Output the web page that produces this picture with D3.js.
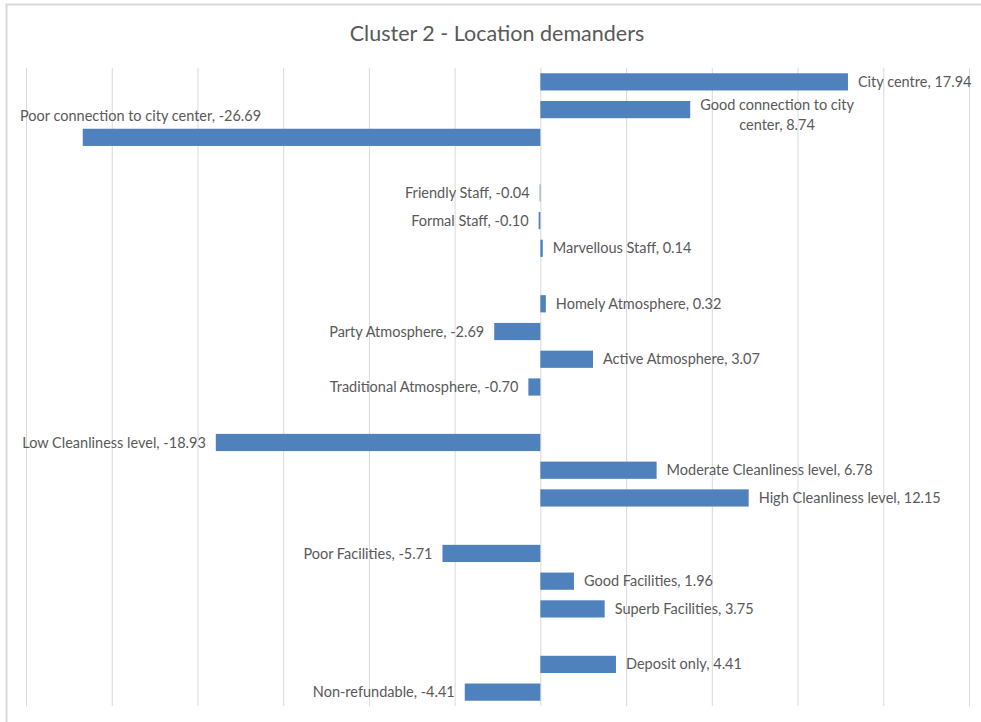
<!DOCTYPE html>
<html lang="en">
<head>
<meta charset="utf-8">
<title>Cluster 2 - Location demanders</title>
<script src="https://d3js.org/d3.v7.min.js"></script>
<style>
  body { margin: 0; background: #fff; }
  text { font-family: Lato, "Open Sans", sans-serif; fill: #595959; }
</style>
</head>
<body>
<div id="my_dataviz"></div>
<script>

// categories top to bottom, "" = empty spacer row between groups
var categories = [
  "City centre", "Good connection to city center", "Poor connection to city center", "",
  "Friendly Staff", "Formal Staff", "Marvellous Staff", "",
  "Homely Atmosphere", "Party Atmosphere", "Active Atmosphere", "Traditional Atmosphere", "",
  "Low Cleanliness level", "Moderate Cleanliness level", "High Cleanliness level", "",
  "Poor Facilities", "Good Facilities", "Superb Facilities", "",
  "Deposit only", "Non-refundable"
];
var values = [
  17.94, 8.74, -26.69, null,
  -0.04, -0.10, 0.14, null,
  0.32, -2.69, 3.07, -0.70, null,
  -18.93, 6.78, 12.15, null,
  -5.71, 1.96, 3.75, null,
  4.41, -4.41
];
var xTicks = [-30, -25, -20, -15, -10, -5, 0, 5, 10, 15, 20, 25];
var title = "Cluster 2 - Location demanders";

var data = categories.map(function(c, i) { return {i: i, name: c, value: values[i]}; });

var W = 981, H = 722;
var margin = {top: 68, right: 12, bottom: 16, left: 26};
var width = W - margin.left - margin.right,
    height = H - margin.top - margin.bottom;

var svg = d3.select("#my_dataviz")
  .append("svg")
  .attr("width", W)
  .attr("height", H);

// chart frame (only top and left edges show in the picture)
svg.append("path")
  .attr("d", "M6.5," + H + "V4.5H" + W)
  .attr("fill", "none")
  .attr("stroke", "#d9d9d9")
  .attr("stroke-width", 2);

svg.append("text")
  .attr("x", 497)
  .attr("y", 41)
  .attr("text-anchor", "middle")
  .style("font-size", "21.5px")
  .text(title);

var g = svg.append("g")
  .attr("transform", "translate(" + margin.left + "," + margin.top + ")");

var x = d3.scaleLinear()
  .domain([-30, 25])
  .range([0, width]);

var y = d3.scaleBand()
  .domain(data.map(function(d) { return d.i; }))
  .range([0, height])
  .paddingInner(0.38)
  .paddingOuter(0.19);

// vertical gridlines
g.append("g")
  .call(d3.axisBottom(x).tickValues(xTicks).tickSize(height).tickFormat(""))
  .call(function(a) {
    a.select(".domain").remove();
    a.selectAll("line").attr("stroke", "#d9d9d9");
  });

var rows = data.filter(function(d) { return d.value !== null; });

// bars
g.selectAll("rect.bar")
  .data(rows)
  .enter()
  .append("rect")
    .attr("class", "bar")
    .attr("x", function(d) { return x(Math.min(0, d.value)); })
    .attr("y", function(d) { return y(d.i); })
    .attr("width", function(d) { return Math.abs(x(d.value) - x(0)); })
    .attr("height", y.bandwidth())
    .attr("fill", "#4f81bd");

// data labels "name, value"
var fs = 14.5;
rows.forEach(function(d) {
  var label = d.name + ", " + d.value.toFixed(2);
  var cy = y(d.i) + y.bandwidth() / 2;
  var xe = x(d.value);
  var t = g.append("text")
    .style("font-size", fs + "px")
    .attr("dy", "0.35em")
    .text(label);
  var w = t.node().getComputedTextLength();

  if (d.value < 0) {
    if (xe - 10 - w < -margin.left + 14) {
      // no room on the left: moved above the bar
      t.attr("x", -6).attr("y", cy - 21).attr("text-anchor", "start");
    } else {
      t.attr("x", xe - 10).attr("y", cy).attr("text-anchor", "end");
    }
  } else if (w > 220) {
    // long label wraps onto two lines
    t.remove();
    var words = label.split(" "), lines = [], line = "";
    var probe = g.append("text").style("font-size", fs + "px");
    words.forEach(function(wd) {
      var test = line ? line + " " + wd : wd;
      probe.text(test);
      if (probe.node().getComputedTextLength() > 165 && line) { lines.push(line); line = wd; }
      else line = test;
    });
    lines.push(line);
    var maxW = d3.max(lines, function(l) { probe.text(l); return probe.node().getComputedTextLength(); });
    probe.remove();
    var cx = xe + 10 + maxW / 2;
    lines.forEach(function(l, k) {
      g.append("text")
        .style("font-size", fs + "px")
        .attr("x", cx)
        .attr("y", cy + (k - (lines.length - 1) / 2) * 20 + 5)
        .attr("dy", "0.35em")
        .attr("text-anchor", "middle")
        .text(l);
    });
  } else {
    t.attr("x", xe + 10).attr("y", cy).attr("text-anchor", "start");
  }
});

</script>
</body>
</html>
